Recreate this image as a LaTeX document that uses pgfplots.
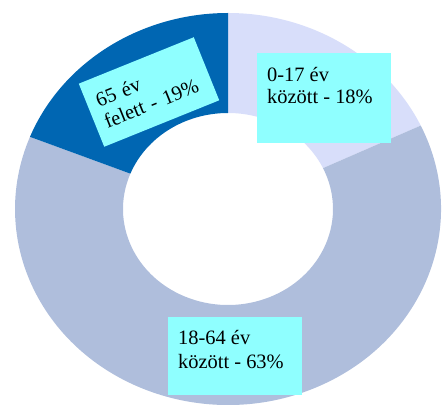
\documentclass[border=0pt]{standalone}
\usepackage{pgfplots}
\usepackage{pgfplotstable}
\pgfplotsset{compat=1.18}
\usepackage{fontspec}
\setmainfont{Liberation Serif}
\definecolor{cA}{RGB}{216,222,250}
\definecolor{cB}{RGB}{175,190,220}
\definecolor{cC}{RGB}{0,102,178}
\definecolor{lab}{RGB}{143,255,255}
\newcommand\lf{\fontsize{20.5}{23}\selectfont}
\newcommand\donutwedge[3]{%
 \fill[#1] (axis cs:{228+213*cos(#2)},{196+196*sin(#2)}) arc[start angle=#2,end angle=#3,x radius=213bp,y radius=196bp]
 -- (axis cs:{228+105*cos(#3)},{196+96*sin(#3)}) arc[start angle=#3,end angle=#2,x radius=105bp,y radius=96bp] -- cycle;}

\pgfplotstableread{
idx value
0 18
1 63
2 19
}\shares

\begin{document}
\begin{tikzpicture}
\pgfplotstablegetelem{0}{value}\of\shares \pgfmathsetmacro\vA{\pgfplotsretval}
\pgfplotstablegetelem{1}{value}\of\shares \pgfmathsetmacro\vB{\pgfplotsretval}
\pgfplotstablegetelem{2}{value}\of\shares \pgfmathsetmacro\vC{\pgfplotsretval}
\pgfmathsetmacro\sA{90}
\pgfmathsetmacro\eA{\sA-3.6*\vA}
\pgfmathsetmacro\eB{\eA-3.6*\vB}
\pgfmathsetmacro\eC{\eB-3.6*\vC}
\begin{axis}[width=442bp,height=405bp,scale only axis,xmin=0,xmax=442,ymin=0,ymax=405,hide axis,clip=false]
\coordinate (BL) at (axis cs:0,0);
\coordinate (TR) at (axis cs:442,405);
\donutwedge{cA}{\sA}{\eA}
\donutwedge{cB}{\eA}{\eB}
\donutwedge{cC}{\eB}{\eC}
\fill[lab] (axis cs:257,352) rectangle (axis cs:391,262);
\node[anchor=base west,inner sep=0,font=\lf] at (axis cs:267,323.3) {0-17 év};
\node[anchor=base west,inner sep=0,font=\lf] at (axis cs:267,301) {között - 18\%};
\fill[lab] (axis cs:168,88) rectangle (axis cs:302,10);
\node[anchor=base west,inner sep=0,font=\lf] at (axis cs:178,60) {18-64 év};
\node[anchor=base west,inner sep=0,font=\lf] at (axis cs:178,36.7) {között - 63\%};
\node[fill=lab,rotate=22,minimum width=124bp,minimum height=68bp,text width=104bp,align=left,inner xsep=10bp,font=\lf] at (axis cs:149,313) {65 év\\felett - 19\%};
\end{axis}
\pgfresetboundingbox
\path[use as bounding box] (BL) rectangle (TR);
\end{tikzpicture}
\end{document}
